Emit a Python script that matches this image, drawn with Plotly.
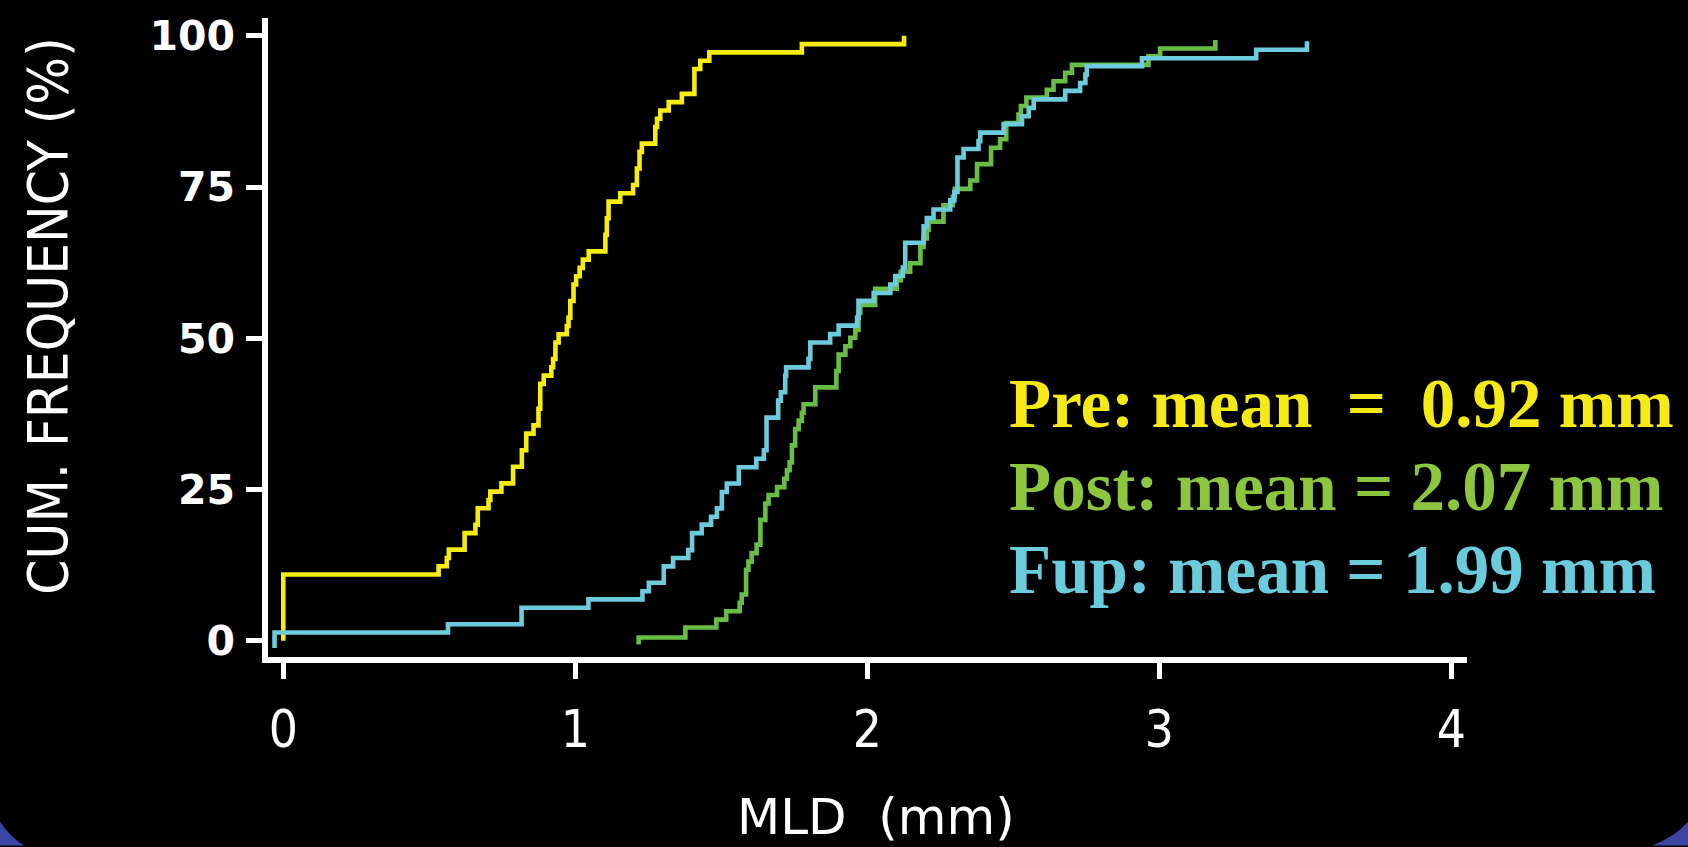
import plotly.graph_objects as go

# ---------------- data ----------------
pre_x = [0.0, 0.0, 0.532, 0.560, 0.567, 0.621, 0.658, 0.666, 0.703, 0.709, 0.747,
         0.787, 0.817, 0.832, 0.857, 0.874, 0.880, 0.892, 0.918, 0.924, 0.932,
         0.943, 0.971, 0.977, 0.983, 0.994, 1.003, 1.015, 1.026, 1.046, 1.103,
         1.108, 1.114, 1.154, 1.198, 1.211, 1.220, 1.228, 1.274, 1.280, 1.291,
         1.320, 1.365, 1.408, 1.428, 1.459, 1.776, 2.126]
pre_y = [0.0, 10.96, 12.33, 13.70, 15.07, 17.81, 19.18, 21.92, 23.29, 24.66, 26.03,
         28.77, 31.51, 34.25, 35.62, 38.36, 42.47, 43.84, 45.21, 46.58, 49.32,
         50.68, 52.05, 53.42, 56.16, 58.90, 60.27, 61.64, 63.01, 64.38, 67.12,
         69.86, 72.60, 73.97, 75.34, 78.08, 80.82, 82.19, 84.93, 86.30, 87.67,
         89.04, 90.41, 94.52, 95.89, 97.26, 98.63, 100.0]

post_x = [1.217, 1.217, 1.377, 1.483, 1.517, 1.563, 1.570, 1.585, 1.593, 1.604,
          1.621, 1.634, 1.651, 1.662, 1.691, 1.716, 1.725, 1.734, 1.742, 1.753,
          1.765, 1.776, 1.782, 1.822, 1.894, 1.902, 1.925, 1.942, 1.959, 1.970,
          1.976, 2.027, 2.101, 2.115, 2.147, 2.182, 2.193, 2.204, 2.210, 2.261,
          2.293, 2.300, 2.353, 2.376, 2.424, 2.455, 2.476, 2.518, 2.526, 2.545,
          2.615, 2.638, 2.678, 2.701, 2.963, 3.003, 3.192]
post_y = [-0.6, 0.55, 2.2, 3.5, 4.9, 6.3, 7.65, 11.76, 13.1, 14.5,
          15.9, 20.0, 22.7, 24.1, 25.4, 26.8, 28.2, 29.5, 32.3, 35.0,
          36.4, 37.7, 39.1, 41.9, 44.6, 47.3, 48.7, 50.1, 51.4, 54.2,
          55.5, 58.2, 59.6, 61.0, 62.4, 65.1, 66.5, 67.9, 69.3, 72.0,
          73.4, 74.7, 76.1, 78.8, 81.5, 82.9, 85.6, 87.0, 88.4, 89.8,
          91.1, 92.5, 93.9, 95.2, 96.6, 97.9, 99.3]

fup_x = [-0.03, -0.03, 0.564, 0.816, 1.045, 1.230, 1.252, 1.303, 1.335, 1.387,
         1.400, 1.433, 1.465, 1.485, 1.502, 1.519, 1.560, 1.620, 1.646, 1.655,
         1.695, 1.704, 1.719, 1.722, 1.799, 1.805, 1.873, 1.902, 1.965, 1.970,
         2.022, 2.079, 2.096, 2.122, 2.130, 2.193, 2.204, 2.227, 2.284, 2.298,
         2.309, 2.330, 2.381, 2.387, 2.467, 2.530, 2.553, 2.570, 2.678, 2.729,
         2.747, 2.752, 2.941, 3.332, 3.506]
fup_y = [-1.2, 1.37, 2.74, 5.48, 6.85, 8.2, 9.6, 12.3, 13.7, 15.0,
         17.8, 19.2, 20.5, 21.9, 24.6, 26.0, 28.7, 30.1, 31.5, 36.9,
         39.7, 41.1, 43.8, 45.2, 46.6, 49.3, 50.7, 52.1, 53.4, 56.2,
         57.5, 58.9, 60.3, 61.7, 65.8, 68.5, 69.9, 71.3, 72.8, 74.2,
         79.9, 81.3, 82.6, 84.0, 85.4, 86.7, 88.1, 89.5, 90.9, 92.2,
         93.6, 95.0, 96.3, 97.7, 99.1]

x_ticks = [0, 1, 2, 3, 4]
y_ticks = [0, 25, 50, 75, 100]

labels = ["Pre: mean\u00a0\u00a0=\u00a0\u00a00.92 mm",
          "Post: mean = 2.07 mm",
          "Fup: mean = 1.99 mm"]

# ---------------- layout geometry ----------------
W, H = 1688, 847
L, R, T, B = 268, 221, 13, 190
PW, PH = W - L - R, H - T - B


def px(x):
    return (x - L) / PW


def py(y):
    return (H - B - y) / PH


YELLOW_LINE = "#F7EC10"
GREEN_LINE = "#68BD45"
CYAN_LINE = "#6CCBDC"
NARROW = "Liberation Sans Narrow, DejaVu Sans Condensed, Liberation Sans"

fig = go.Figure()
fig.add_trace(go.Scatter(x=pre_x, y=pre_y, mode="lines",
                         line=dict(shape="hv", width=4.6, color=YELLOW_LINE)))
fig.add_trace(go.Scatter(x=post_x, y=post_y, mode="lines",
                         line=dict(shape="hv", width=4.6, color=GREEN_LINE)))
fig.add_trace(go.Scatter(x=fup_x, y=fup_y, mode="lines",
                         line=dict(shape="hv", width=4.6, color=CYAN_LINE)))

fig.update_layout(
    width=W, height=H,
    margin=dict(l=L, r=R, t=T, b=B, pad=0),
    paper_bgcolor="black", plot_bgcolor="black",
    showlegend=False,
    font=dict(color="white", family="DejaVu Sans"),
    xaxis=dict(range=[-0.0524, 4.054], tickvals=x_ticks,
               ticktext=[str(v) for v in x_ticks],
               showline=True, linecolor="white", linewidth=5.5,
               ticks="outside", ticklen=16, tickwidth=5, tickcolor="white",
               tickfont=dict(family=NARROW, size=51, color="white"),
               ticklabelstandoff=7,
               showgrid=False, zeroline=False, fixedrange=True),
    yaxis=dict(range=[-2.673, 102.95], tickvals=y_ticks,
               ticktext=[str(v) for v in y_ticks],
               showline=True, linecolor="white", linewidth=5.5,
               ticks="outside", ticklen=16, tickwidth=5, tickcolor="white",
               tickfont=dict(family="DejaVu Sans", size=41, color="white",
                             weight="bold"),
               ticklabelstandoff=3,
               showgrid=False, zeroline=False, fixedrange=True),
)

# axis titles
fig.add_annotation(text="CUM. FREQUENCY (%)", xref="paper", yref="paper",
                   x=px(48), y=py(313), xanchor="center", yanchor="middle",
                   textangle=-90, showarrow=False,
                   font=dict(family=NARROW, size=56, color="white"))
fig.add_annotation(text="MLD\u00a0\u00a0(mm)", xref="paper", yref="paper",
                   x=px(876), y=py(818), xanchor="center", yanchor="middle",
                   showarrow=False,
                   font=dict(family="DejaVu Sans", size=50, color="white"))

# mean labels
label_colors = ["#F5E916", "#8CC63E", "#6ACBDC"]
label_centers = [402, 486, 569]
for txt, col, cy in zip(labels, label_colors, label_centers):
    fig.add_annotation(text="<b>" + txt + "</b>", xref="paper", yref="paper",
                       x=px(1007), y=py(cy), xanchor="left", yanchor="middle",
                       showarrow=False,
                       font=dict(family="Liberation Serif", size=69, color=col))

# blue slide corners
BLUE = "#3B45A4"
fig.add_shape(type="path", xref="paper", yref="paper", layer="below",
              path=f"M {px(0)},{py(823)} Q {px(10)},{py(838)} {px(24)},{py(847)} "
                   f"L {px(0)},{py(847)} Z",
              fillcolor=BLUE, line=dict(width=0))
fig.add_shape(type="path", xref="paper", yref="paper", layer="below",
              path=f"M {px(1652)},{py(847)} Q {px(1675)},{py(838)} {px(1688)},{py(823)} "
                   f"L {px(1688)},{py(847)} Z",
              fillcolor=BLUE, line=dict(width=0))

fig.write_html("out.html", config={"displayModeBar": False},
               post_script="document.body.style.margin='0';document.body.style.overflow='hidden';")
